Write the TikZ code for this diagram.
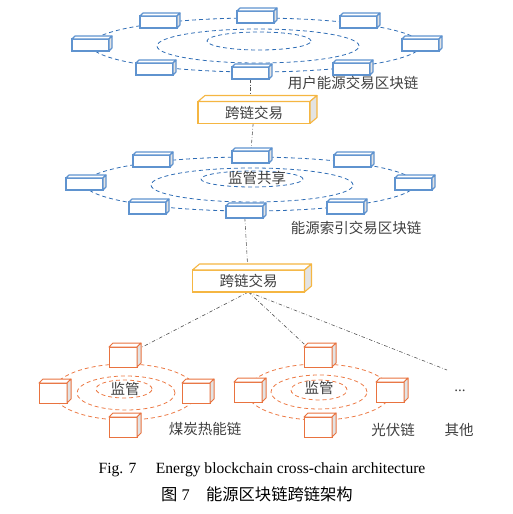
\documentclass[tikz,border=0pt]{standalone}
\usepackage{fontspec}
\setmainfont{Liberation Serif}
\newfontfamily\cjk{Noto Sans CJK SC}
\usetikzlibrary{calc,backgrounds}
\definecolor{bline}{HTML}{5F93CF}
\definecolor{bdash}{HTML}{2F6DB5}
\definecolor{oline}{HTML}{E9733F}
\definecolor{odash}{HTML}{EC7A45}
\definecolor{yline}{HTML}{F5B642}
\definecolor{sidegray}{HTML}{E3E3E3}
\definecolor{txt}{HTML}{404040}
\definecolor{conn}{HTML}{555555}
\begin{document}
\begin{tikzpicture}[x=1pt,y=-1pt,
  bblk/.style={draw=bline, line width=1.1pt, fill=white, minimum width=37pt, minimum height=12pt, inner sep=0pt, outer sep=0pt},
  oblk/.style={draw=oline, line width=1pt, fill=white, minimum width=28pt, minimum height=20pt, inner sep=0pt, outer sep=0pt},
  xbox/.style={draw=yline, line width=1.1pt, fill=white, minimum width=112pt, minimum height=22pt, inner sep=0pt, outer sep=0pt, font=\cjk\fontsize{14.5}{16}\selectfont, text=txt},
  bring/.style={draw=bdash, line width=0.8pt, dash pattern=on 4pt off 3pt},
  oring/.style={draw=odash, line width=0.8pt, dash pattern=on 4pt off 3pt},
  link/.style={draw=conn, line width=0.6pt, dash pattern=on 3.5pt off 2pt on 0.6pt off 2pt},
  lbl/.style={font=\cjk\fontsize{14.5}{16}\selectfont, text=txt, inner sep=0pt},
  bface/.style={draw=bline, line width=1.1pt, line join=round},
  oface/.style={draw=oline, line width=1pt, line join=round},
  yface/.style={draw=yline, line width=1.1pt, line join=round}
]
\useasboundingbox (0,0) rectangle (513,514);

% user energy chain blocks
\node[bblk] (u1) at (255.5,17) {};
\node[bblk] (u2) at (158.5,22) {};
\node[bblk] (u3) at (358.5,22) {};
\node[bblk] (u4) at (90.5,45) {};
\node[bblk] (u5) at (420.5,45) {};
\node[bblk] (u6) at (154.5,69) {};
\node[bblk] (u7) at (351.5,69) {};
\node[bblk] (u8) at (250.5,73) {};
% index chain blocks
\node[bblk] (m1) at (250.5,157) {};
\node[bblk] (m2) at (151.5,161) {};
\node[bblk] (m3) at (352.5,161) {};
\node[bblk] (m4) at (84.5,184) {};
\node[bblk] (m5) at (413.5,184) {};
\node[bblk] (m6) at (147.5,208) {};
\node[bblk] (m7) at (345.5,208) {};
\node[bblk] (m8) at (244.5,212) {};
% orange blocks
\node[oblk] (a1) at (123,357) {};
\node[oblk] (a2) at (53,393) {};
\node[oblk] (a3) at (196,393) {};
\node[oblk] (a4) at (123,427) {};
\node[oblk] (b1) at (318,357) {};
\node[oblk] (b2) at (248,392) {};
\node[oblk] (b3) at (390,392) {};
\node[oblk] (b4) at (318,427) {};
% cross-chain boxes
\node[xbox] (c1) at (254,112.5) {跨链交易};
\node[xbox] (c2) at (248.5,281) {跨链交易};

\foreach \n in {u1,u2,u3,u4,u5,u6,u7,u8,m1,m2,m3,m4,m5,m6,m7,m8}{
  \draw[bface, fill=white] (\n.north west) -- ++(3,-3) -- ($(\n.north east)+(3,-3)$) -- (\n.north east) -- cycle;
  \draw[bface, fill=sidegray] (\n.north east) -- ++(3,-3) -- ($(\n.south east)+(3,-3)$) -- (\n.south east) -- cycle;
}
\foreach \n in {a1,a2,a3,a4,b1,b2,b3,b4}{
  \draw[oface, fill=white] (\n.north west) -- ++(4,-4) -- ($(\n.north east)+(4,-4)$) -- (\n.north east) -- cycle;
  \draw[oface, fill=sidegray] (\n.north east) -- ++(4,-4) -- ($(\n.south east)+(4,-4)$) -- (\n.south east) -- cycle;
}
\foreach \n in {c1,c2}{
  \draw[yface, fill=white] (\n.north west) -- ++(7,-6) -- ($(\n.north east)+(7,-6)$) -- (\n.north east) -- cycle;
  \draw[yface, fill=sidegray] (\n.north east) -- ++(7,-6) -- ($(\n.south east)+(7,-6)$) -- (\n.south east) -- cycle;
}

% labels
\node[lbl] (l1) at (353,83) {用户能源交易区块链};
\node[lbl] (l2) at (257,178) {监管共享};
\node[lbl] (l3) at (356,228) {能源索引交易区块链};
\node[lbl] (l4) at (125,389) {监管};
\node[lbl] (l5) at (319,388) {监管};
\node[lbl] (l6) at (205,429) {煤炭热能链};
\node[lbl] (l7) at (393,430) {光伏链};
\node[lbl] (l8) at (459,430) {其他};
\node[font=\fontsize{15}{16}\selectfont, text=txt, inner sep=0pt] (dots) at (460,391) {...};
\coordinate (oe) at (447,370);

% captions
\node[font=\fontsize{15.6}{17}\selectfont, inner sep=0pt] (cap1) at (262,470) {Fig. 7\quad\ Energy blockchain cross-chain architecture};
\node[font=\fontsize{16.3}{18}\selectfont, inner sep=0pt] (cap2) at (257,494) {{\cjk 图}~7\quad{\cjk 能源区块链跨链架构}};

\begin{scope}[on background layer]
  \draw[bring] (256,45) ellipse [x radius=165pt, y radius=27pt];
  \draw[bring] (258,46) ellipse [x radius=101pt, y radius=17pt];
  \draw[bring] (259,41) ellipse [x radius=52pt, y radius=9pt];
  \draw[bring] (250,184) ellipse [x radius=165pt, y radius=27pt];
  \draw[bring] (252,185) ellipse [x radius=101pt, y radius=17pt];
  \draw[bring] (252,179) ellipse [x radius=51pt, y radius=8pt];
  \draw[oring] (125,392) ellipse [x radius=72pt, y radius=28pt];
  \draw[oring] (126,393) ellipse [x radius=49pt, y radius=17pt];
  \draw[oring] (124,389) ellipse [x radius=28pt, y radius=9pt];
  \draw[oring] (319,392) ellipse [x radius=72pt, y radius=28pt];
  \draw[oring] (319,392) ellipse [x radius=48pt, y radius=17pt];
  \draw[oring] (319,390) ellipse [x radius=28pt, y radius=10pt];
  \draw[link] (u8) -- (u8 |- c1);
  \draw[link] (c1) -- (m1);
  \draw[link] (m8) -- (c2);
  \draw[link] (c2.south) -- (a1);
  \draw[link] (c2.south) -- (b1);
  \draw[link] (c2.south) -- (oe);
\end{scope}
\end{tikzpicture}
\end{document}
